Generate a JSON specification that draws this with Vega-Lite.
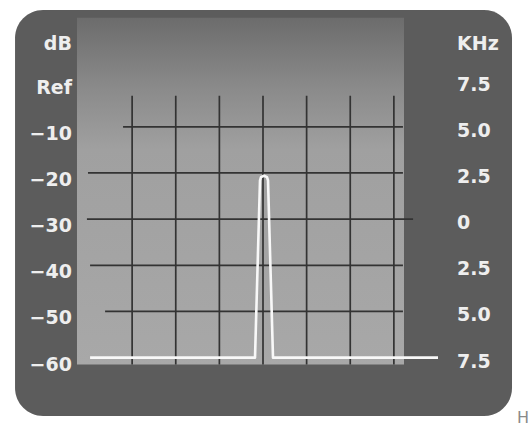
{
  "$schema": "https://vega.github.io/schema/vega-lite/v6.json",
  "width": 530,
  "height": 426,
  "autosize": {"type": "fit", "contains": "padding"},
  "padding": 0,
  "background": "#ffffff",
  "config": {"view": {"stroke": null}},
  "layer": [
    {
      "data": {"values": [{"part": "frame"}]},
      "mark": {"type": "rect", "fill": "#5c5c5c", "cornerRadius": 28},
      "encoding": {
        "x": {"datum": -14.21, "type": "quantitative", "scale": {"domain": [-15.072, 15.301], "nice": false, "zero": false}, "axis": null},
        "x2": {"datum": 14.27},
        "y": {"datum": 15.32, "type": "quantitative", "scale": {"domain": [-73.948, 17.468], "nice": false, "zero": false}, "axis": null},
        "y2": {"datum": -72.66}
      }
    },
    {
      "data": {"values": [{"part": "screen"}]},
      "mark": {
        "type": "rect",
        "fill": {"gradient": "linear", "x1": 0, "y1": 0, "x2": 0, "y2": 1,
          "stops": [
            {"offset": 0, "color": "#6c6c6c"},
            {"offset": 0.2, "color": "#8a8a8a"},
            {"offset": 0.38, "color": "#a0a0a0"},
            {"offset": 1, "color": "#a8a8a8"}
          ]}
      },
      "encoding": {
        "x": {"datum": -10.66, "type": "quantitative", "scale": {"domain": [-15.072, 15.301], "nice": false, "zero": false}, "axis": null},
        "x2": {"datum": 8.08},
        "y": {"datum": 13.6, "type": "quantitative", "scale": {"domain": [-73.948, 17.468], "nice": false, "zero": false}, "axis": null},
        "y2": {"datum": -61.5}
      }
    },
    {
      "data": {"values": [{"k": -7.5}, {"k": -5}, {"k": -2.5}, {"k": 0}, {"k": 2.5}, {"k": 5}, {"k": 7.5}]},
      "mark": {"type": "rule", "color": "#333333", "strokeWidth": 1.7},
      "encoding": {
        "x": {"field": "k", "type": "quantitative", "scale": {"domain": [-15.072, 15.301], "nice": false, "zero": false}, "axis": null},
        "y": {"datum": -3.3, "type": "quantitative", "scale": {"domain": [-73.948, 17.468], "nice": false, "zero": false}, "axis": null},
        "y2": {"datum": -61.5}
      }
    },
    {
      "data": {"values": [
        {"db": -10, "from": -8.02, "to": 8.02},
        {"db": -20, "from": -10.03, "to": 8.02},
        {"db": -30, "from": -10.09, "to": 8.6},
        {"db": -40, "from": -9.91, "to": 8.02},
        {"db": -50, "from": -9.05, "to": 8.02}
      ]},
      "mark": {"type": "rule", "color": "#333333", "strokeWidth": 1.7},
      "encoding": {
        "x": {"field": "from", "type": "quantitative", "scale": {"domain": [-15.072, 15.301], "nice": false, "zero": false}, "axis": null},
        "x2": {"field": "to"},
        "y": {"field": "db", "type": "quantitative", "scale": {"domain": [-73.948, 17.468], "nice": false, "zero": false}, "axis": null}
      }
    },
    {
      "data": {"values": [
        {"k": -9.91, "db": -60},
        {"k": -0.458, "db": -60},
        {"k": -0.172, "db": -21.6},
        {"k": -0.115, "db": -20.9},
        {"k": 0.057, "db": -20.6},
        {"k": 0.229, "db": -20.9},
        {"k": 0.287, "db": -21.6},
        {"k": 0.573, "db": -60},
        {"k": 10.03, "db": -60}
      ]},
      "mark": {"type": "line", "color": "#f8f8f8", "strokeWidth": 2.6, "strokeJoin": "round"},
      "encoding": {
        "x": {"field": "k", "type": "quantitative", "scale": {"domain": [-15.072, 15.301], "nice": false, "zero": false}, "axis": null},
        "y": {"field": "db", "type": "quantitative", "scale": {"domain": [-73.948, 17.468], "nice": false, "zero": false}, "axis": null}
      }
    },
    {
      "data": {"values": [
        {"db": 0, "left": "Ref", "right": "7.5"},
        {"db": -10, "left": "−10", "right": "5.0"},
        {"db": -20, "left": "−20", "right": "2.5"},
        {"db": -30, "left": "−30", "right": "0"},
        {"db": -40, "left": "−40", "right": "2.5"},
        {"db": -50, "left": "−50", "right": "5.0"},
        {"db": -60, "left": "−60", "right": "7.5"}
      ]},
      "mark": {"type": "text", "align": "right", "baseline": "middle", "dy": 7, "font": "DejaVu Sans", "fontWeight": "bold", "fontSize": 19, "color": "#eeeeee"},
      "encoding": {
        "x": {"datum": -10.95, "type": "quantitative", "scale": {"domain": [-15.072, 15.301], "nice": false, "zero": false}, "axis": null},
        "y": {"field": "db", "type": "quantitative", "scale": {"domain": [-73.948, 17.468], "nice": false, "zero": false}, "axis": null},
        "text": {"field": "left"}
      }
    },
    {
      "data": {"values": [
        {"db": 0, "left": "Ref", "right": "7.5"},
        {"db": -10, "left": "−10", "right": "5.0"},
        {"db": -20, "left": "−20", "right": "2.5"},
        {"db": -30, "left": "−30", "right": "0"},
        {"db": -40, "left": "−40", "right": "2.5"},
        {"db": -50, "left": "−50", "right": "5.0"},
        {"db": -60, "left": "−60", "right": "7.5"}
      ]},
      "mark": {"type": "text", "align": "left", "baseline": "middle", "dy": 4, "font": "DejaVu Sans", "fontWeight": "bold", "fontSize": 19, "color": "#eeeeee"},
      "encoding": {
        "x": {"datum": 11.12, "type": "quantitative", "scale": {"domain": [-15.072, 15.301], "nice": false, "zero": false}, "axis": null},
        "y": {"field": "db", "type": "quantitative", "scale": {"domain": [-73.948, 17.468], "nice": false, "zero": false}, "axis": null},
        "text": {"field": "right"}
      }
    },
    {
      "data": {"values": [{"label": "dB"}]},
      "mark": {"type": "text", "align": "right", "baseline": "middle", "dy": 10, "font": "DejaVu Sans", "fontWeight": "bold", "fontSize": 19, "color": "#eeeeee"},
      "encoding": {
        "x": {"datum": -10.95, "type": "quantitative", "scale": {"domain": [-15.072, 15.301], "nice": false, "zero": false}, "axis": null},
        "y": {"datum": 10, "type": "quantitative", "scale": {"domain": [-73.948, 17.468], "nice": false, "zero": false}, "axis": null},
        "text": {"field": "label"}
      }
    },
    {
      "data": {"values": [{"label": "KHz"}]},
      "mark": {"type": "text", "align": "left", "baseline": "middle", "dy": 10, "font": "DejaVu Sans", "fontWeight": "bold", "fontSize": 19, "color": "#eeeeee"},
      "encoding": {
        "x": {"datum": 11.12, "type": "quantitative", "scale": {"domain": [-15.072, 15.301], "nice": false, "zero": false}, "axis": null},
        "y": {"datum": 10, "type": "quantitative", "scale": {"domain": [-73.948, 17.468], "nice": false, "zero": false}, "axis": null},
        "text": {"field": "label"}
      }
    },
    {
      "data": {"values": [{"label": "H"}]},
      "mark": {"type": "text", "align": "left", "baseline": "top", "font": "DejaVu Sans", "fontSize": 16, "color": "#8a8a8a"},
      "encoding": {
        "x": {"datum": 14.55, "type": "quantitative", "scale": {"domain": [-15.072, 15.301], "nice": false, "zero": false}, "axis": null},
        "y": {"datum": -71.3, "type": "quantitative", "scale": {"domain": [-73.948, 17.468], "nice": false, "zero": false}, "axis": null},
        "text": {"field": "label"}
      }
    }
  ]
}
